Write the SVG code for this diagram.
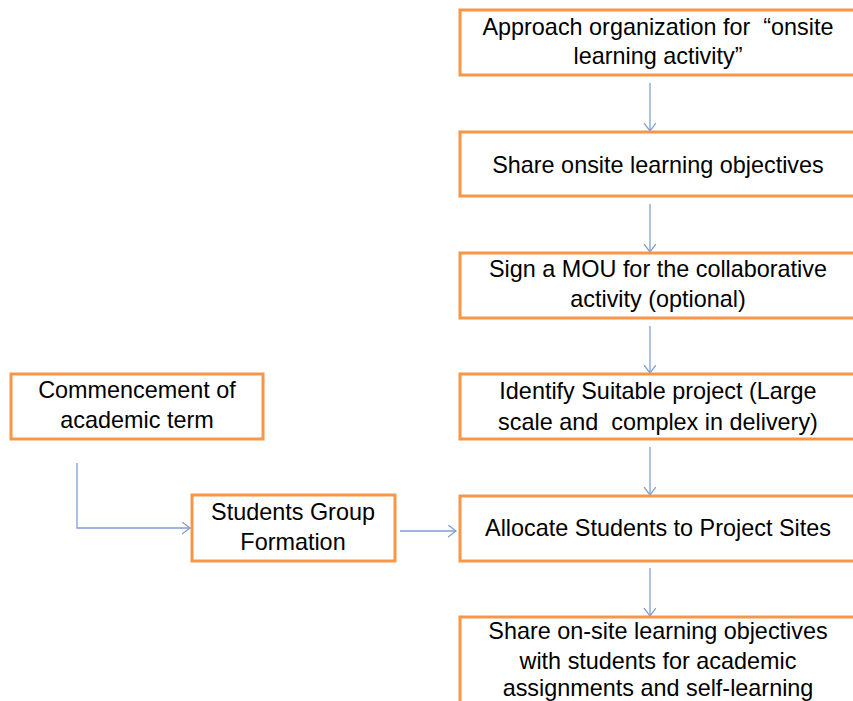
<svg xmlns="http://www.w3.org/2000/svg" width="853" height="701" viewBox="0 0 853 701">
<style>
.box{fill:#ffffff;stroke:#F79646;stroke-width:3}
.t{font-family:"Liberation Sans",Arial,sans-serif;font-size:23.4px;fill:#000000;text-anchor:middle;white-space:pre}
.c{fill:none;stroke:#7F9FD4;stroke-width:1.3}
</style>
<defs>
<marker id="ah" markerWidth="14" markerHeight="14" refX="8" refY="6" orient="auto" markerUnits="userSpaceOnUse">
<path d="M0,0 L8,6 L0,12" fill="none" stroke="#7F9FD4" stroke-width="1.3"/>
</marker>
</defs>
<rect width="853" height="701" fill="#ffffff"/>
<g id="connectors">
<line class="c" x1="650" y1="83" x2="650" y2="131" marker-end="url(#ah)"/>
<line class="c" x1="650" y1="204" x2="650" y2="252" marker-end="url(#ah)"/>
<line class="c" x1="650" y1="326" x2="650" y2="373" marker-end="url(#ah)"/>
<line class="c" x1="650" y1="447" x2="650" y2="495" marker-end="url(#ah)"/>
<line class="c" x1="650" y1="568" x2="650" y2="616" marker-end="url(#ah)"/>
<polyline class="c" points="77,463 77,528 190,528" marker-end="url(#ah)"/>
<line class="c" x1="400" y1="531" x2="456" y2="531" marker-end="url(#ah)"/>
</g>
<g id="n1">
<rect class="box" x="460" y="10" width="398" height="65"/>
<text class="t" x="658" y="35" xml:space="preserve">Approach organization for  “onsite</text>
<text class="t" x="658" y="64">learning activity”</text>
</g>
<g id="n2">
<rect class="box" x="460" y="132" width="398" height="64"/>
<text class="t" x="658" y="173">Share onsite learning objectives</text>
</g>
<g id="n3">
<rect class="box" x="460" y="253" width="398" height="65"/>
<text class="t" x="658" y="277">Sign a MOU for the collaborative</text>
<text class="t" x="658" y="307">activity (optional)</text>
</g>
<g id="n4">
<rect class="box" x="460" y="374" width="398" height="65"/>
<text class="t" x="658" y="399">Identify Suitable project (Large</text>
<text class="t" x="658" y="430" xml:space="preserve">scale and  complex in delivery)</text>
</g>
<g id="n5">
<rect class="box" x="460" y="496" width="398" height="65"/>
<text class="t" x="658" y="536">Allocate Students to Project Sites</text>
</g>
<g id="n6">
<rect class="box" x="460" y="617" width="398" height="100"/>
<text class="t" x="658" y="639">Share on-site learning objectives</text>
<text class="t" x="658" y="669">with students for academic</text>
<text class="t" x="658" y="696">assignments and self-learning</text>
</g>
<g id="n7">
<rect class="box" x="11" y="374" width="252" height="65"/>
<text class="t" x="137" y="398">Commencement of</text>
<text class="t" x="137" y="428">academic term</text>
</g>
<g id="n8">
<rect class="box" x="192" y="495" width="203" height="66"/>
<text class="t" x="293" y="520">Students Group</text>
<text class="t" x="293" y="550">Formation</text>
</g>
</svg>
